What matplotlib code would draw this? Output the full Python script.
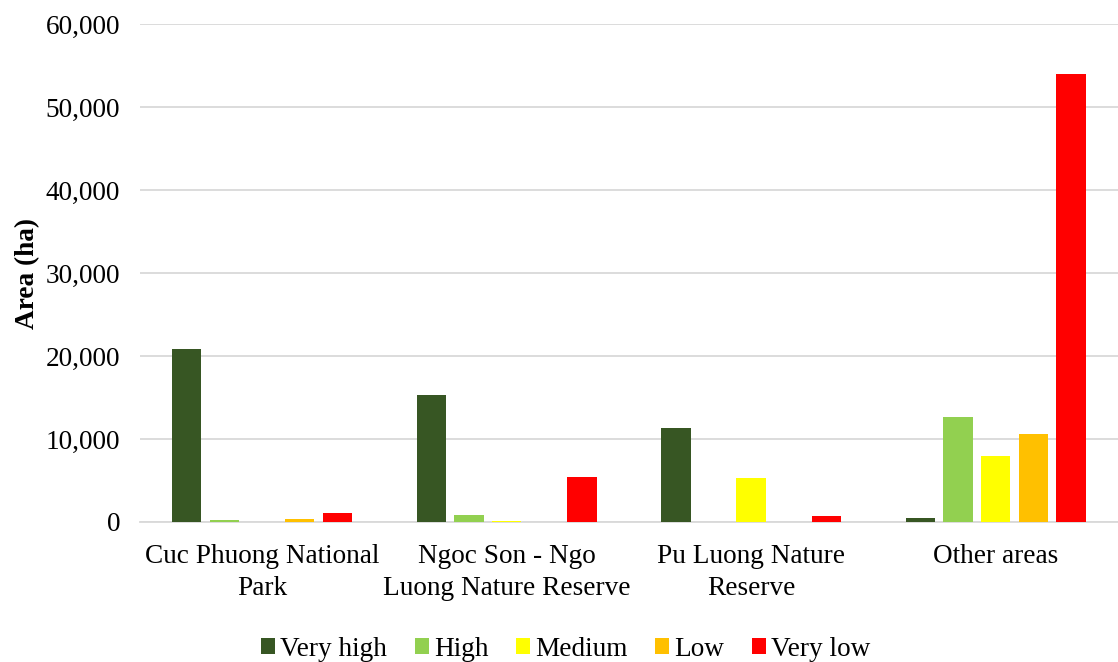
import matplotlib.pyplot as plt
import numpy as np

categories = ["Cuc Phuong National\nPark", "Ngoc Son - Ngo\nLuong Nature Reserve",
              "Pu Luong Nature\nReserve", "Other areas"]
classes = ["Very high", "High", "Medium", "Low", "Very low"]
very_high = [20900, 15300, 11300, 450]
high = [250, 850, 0, 12700]
medium = [0, 100, 5350, 7950]
low = [400, 0, 0, 10600]
very_low = [1050, 5450, 700, 54000]
colors = ["#375623", "#92D050", "#FFFF00", "#FFC000", "#FF0000"]
yticks = [0, 10000, 20000, 30000, 40000, 50000, 60000]

plt.rcParams['font.family'] = ['Liberation Serif', 'DejaVu Serif']
FS = 19.6

fig = plt.figure(figsize=(11.18, 6.62), dpi=100)
ax = fig.add_axes([0.125, 0.2115, 0.875, 0.7522])

series = [very_high, high, medium, low, very_low]
x = np.arange(len(categories))
step = 0.154
width = 0.12
for i, (name, vals, c) in enumerate(zip(classes, series, colors)):
    ax.bar(x + (i - 2) * step, vals, width, color=c, label=name, zorder=3)

ax.set_xlim(-0.5, len(categories) - 0.5)
ax.set_ylim(0, 60000)
ax.set_yticks(yticks)
ax.set_yticklabels([f"{v:,}" for v in yticks], fontsize=FS)
ax.set_xticks(x)
ax.set_xticklabels(categories, fontsize=FS, linespacing=1.36)
ax.tick_params(axis='y', length=0, pad=14)
ax.tick_params(axis='x', length=0, pad=16)
ax.grid(axis='y', color='#d9d9d9', linewidth=1.3, zorder=0)
for s in ['top', 'right', 'left']:
    ax.spines[s].set_visible(False)
ax.spines['bottom'].set_color('#d9d9d9')
ax.spines['bottom'].set_linewidth(1.3)
ax.set_ylabel("Area (ha)", fontsize=FS, fontweight='bold')
ax.yaxis.set_label_coords(-0.102, 0.5)

fig.legend(loc='lower center', bbox_to_anchor=(0.506, -0.037), ncol=5, frameon=False,
           fontsize=FS, handlelength=0.52, handleheight=0.52, handletextpad=0.2,
           columnspacing=1.0)

fig.savefig("out.png", dpi=100)
